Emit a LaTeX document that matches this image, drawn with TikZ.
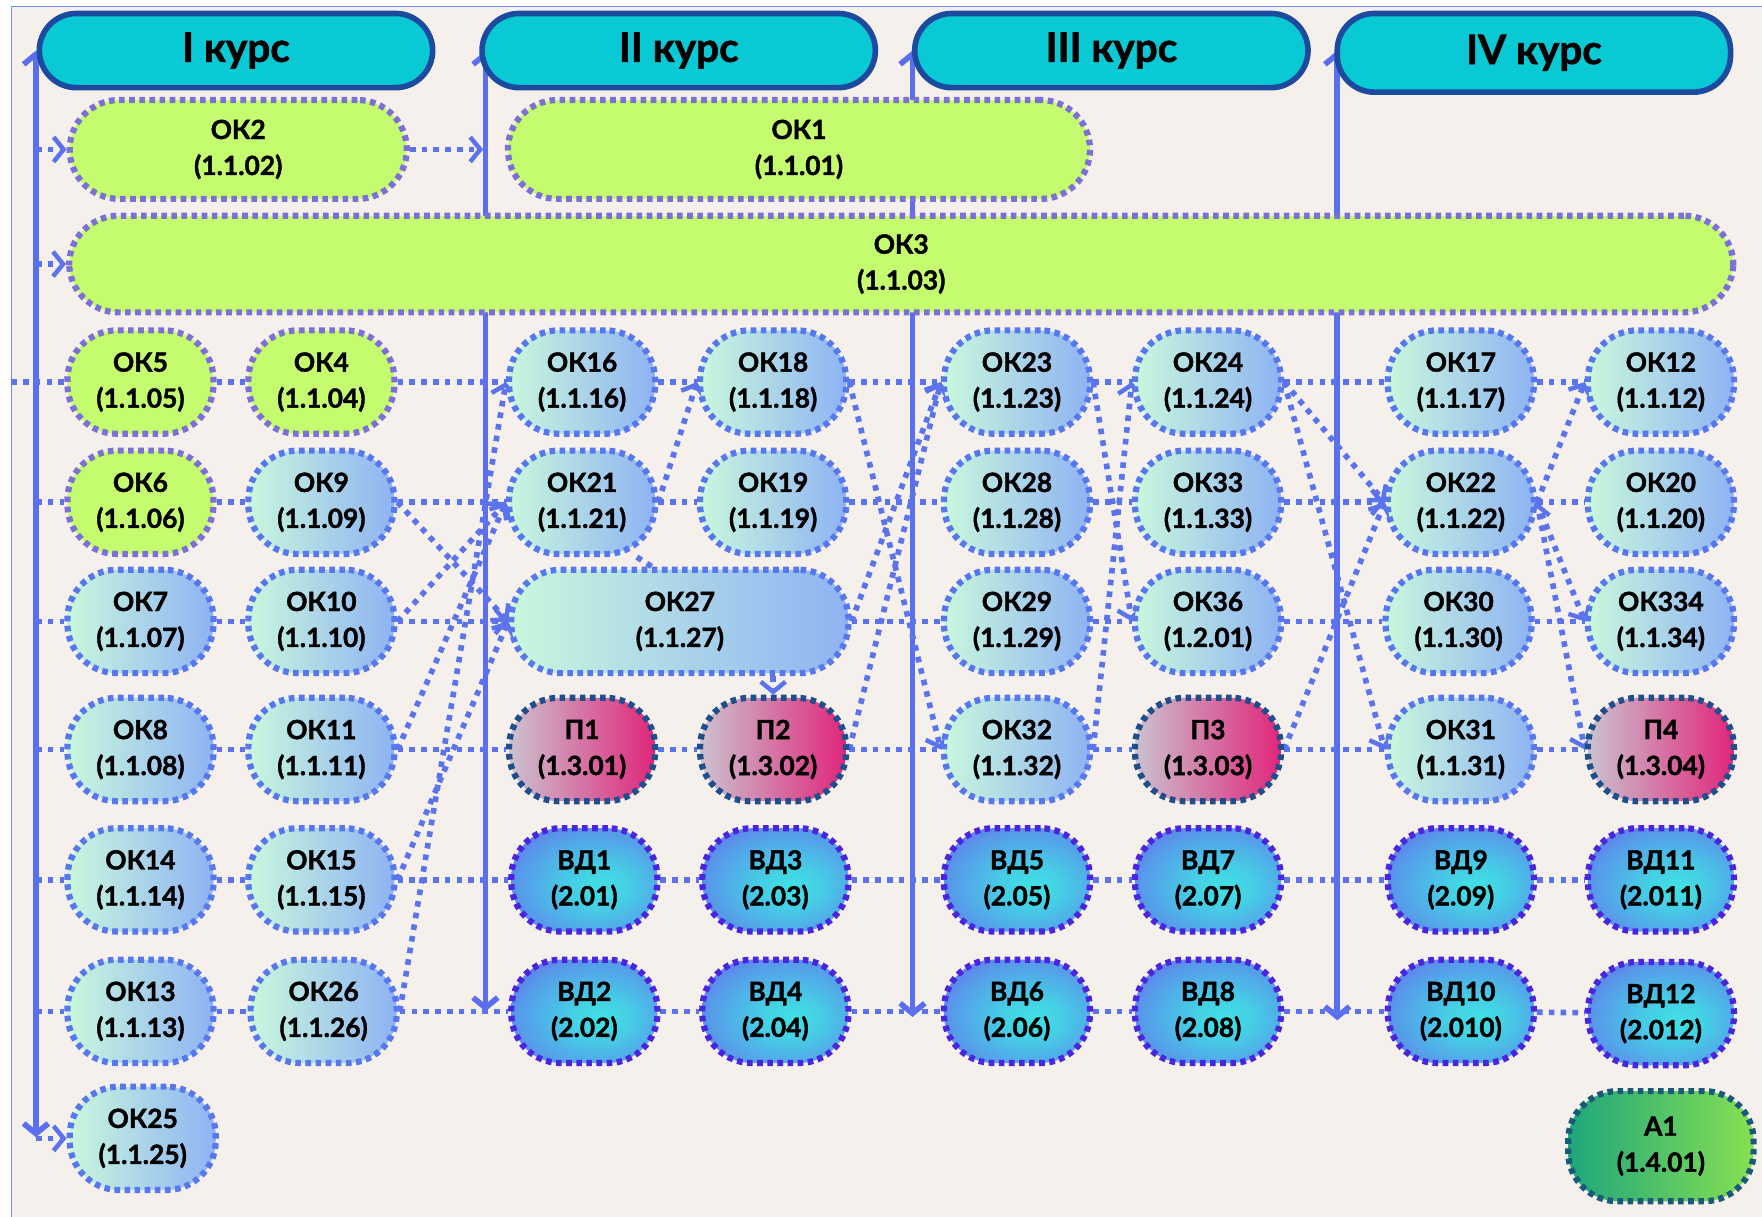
\documentclass[tikz,border=0pt]{standalone}
\usepackage{fontspec}
\setmainfont{Lato}[BoldFeatures={FakeBold=1.5}]
\usetikzlibrary{arrows.meta,positioning,calc}

\definecolor{paper}{HTML}{F5F0EC}
\definecolor{framecol}{HTML}{6C95EE}
\definecolor{kursfill}{HTML}{08C9D4}
\definecolor{kursrim}{HTML}{1B4A9E}
\definecolor{axisblue}{HTML}{5B6EF0}
\definecolor{linkblue}{HTML}{5B73EC}
\definecolor{lime}{HTML}{C5FB6E}
\definecolor{limerim}{HTML}{7C6FD8}
\definecolor{mint}{HTML}{C9F7DD}
\definecolor{skyblue}{HTML}{8EB3F3}
\definecolor{okrim}{HTML}{5677EE}
\definecolor{pgrey}{HTML}{CBC2CF}
\definecolor{pmagenta}{HTML}{E0267A}
\definecolor{prim}{HTML}{1F4E8C}
\definecolor{vdcyan}{HTML}{3FE2E4}
\definecolor{vdviolet}{HTML}{6A62EE}
\definecolor{vdrim}{HTML}{4B24E0}
\definecolor{ateal}{HTML}{1EA67C}
\definecolor{agreen}{HTML}{86E052}
\definecolor{arim}{HTML}{1A5A78}

\pgfdeclareradialshading{vdshade}{\pgfpoint{6bp}{-4bp}}{%
  color(0bp)=(vdcyan); color(10bp)=(vdcyan!85!vdviolet);
  color(26bp)=(vdviolet!55!vdcyan); color(38bp)=(vdviolet);
  color(70bp)=(vdviolet)}

\pgfdeclarelayer{back}
\pgfdeclarelayer{links}
\pgfsetlayers{back,links,main}

\newcommand\cellfont{\fontsize{23.5}{32}\selectfont\bfseries}
\newcommand\kursfont{\fontsize{36}{40}\selectfont\bfseries}

\tikzset{
  cell/.style={rounded corners=44pt, minimum width=130pt, minimum height=92pt,
    line width=5.5pt, dash pattern=on 5pt off 4pt, align=center,
    inner sep=0pt, font=\cellfont},
  okgreen/.style={cell, draw=limerim, fill=lime},
  okblue/.style={cell, draw=okrim, left color=mint, right color=skyblue},
  prak/.style={cell, draw=prim, left color=pgrey, right color=pmagenta},
  vdcell/.style={cell, draw=vdrim, shading=vdshade},
  attest/.style={cell, draw=arim, left color=ateal, right color=agreen},
  kurs/.style={rounded corners=33pt, draw=kursrim, line width=5pt, fill=kursfill,
    minimum width=350pt, minimum height=66pt, font=\kursfont},
  axis/.style={draw=axisblue, line width=5pt,
    {Straight Barb[length=9pt,width=22pt]}-{Straight Barb[length=9pt,width=22pt]}},
  link/.style={draw=linkblue, line width=5pt, dash pattern=on 5pt off 5.5pt},
  linkto/.style={link, -{Straight Barb[length=9pt,width=22pt,line width=4pt]}}
}

\begin{document}
\begin{tikzpicture}[x=1pt,y=-1pt]
\useasboundingbox (0,0) rectangle (1568,1083);

% course headers
\node[kurs] (k1) at (210,45) {I курс};
\node[kurs] (k2) at (604,45) {II курс};
\node[kurs] (k3) at (989,45) {III курс};
\node[kurs, minimum height=70pt] (k4) at (1365,47) {IV курс};

% long modules
\node[okgreen, minimum width=300pt, minimum height=88pt] (ok2) at (212,133) {ОК2\\(1.1.02)};
\node[okgreen, minimum width=518pt, minimum height=88pt] (ok1) at (711,133) {ОК1\\(1.1.01)};
\node[okgreen, minimum width=1481pt, minimum height=86pt] (ok3) at (802,235) {ОК3\\(1.1.03)};

% row 1
\node[okgreen] (ok5)  at (125,340)  {ОК5\\(1.1.05)};
\node[okgreen] (ok4)  at (286,340)  {ОК4\\(1.1.04)};
\node[okblue]  (ok16) at (518,340)  {ОК16\\(1.1.16)};
\node[okblue]  (ok18) at (688,340)  {ОК18\\(1.1.18)};
\node[okblue]  (ok23) at (905,340)  {ОК23\\(1.1.23)};
\node[okblue]  (ok24) at (1075,340) {ОК24\\(1.1.24)};
\node[okblue]  (ok17) at (1300,340) {ОК17\\(1.1.17)};
\node[okblue]  (ok12) at (1478,340) {ОК12\\(1.1.12)};
% row 2
\node[okgreen] (ok6)  at (125,447)  {ОК6\\(1.1.06)};
\node[okblue]  (ok9)  at (286,447)  {ОК9\\(1.1.09)};
\node[okblue]  (ok21) at (518,447)  {ОК21\\(1.1.21)};
\node[okblue]  (ok19) at (688,447)  {ОК19\\(1.1.19)};
\node[okblue]  (ok28) at (905,447)  {ОК28\\(1.1.28)};
\node[okblue]  (ok33) at (1075,447) {ОК33\\(1.1.33)};
\node[okblue]  (ok22) at (1300,447) {ОК22\\(1.1.22)};
\node[okblue]  (ok20) at (1478,447) {ОК20\\(1.1.20)};
% row 3
\node[okblue] (ok7)   at (125,553)  {ОК7\\(1.1.07)};
\node[okblue] (ok10)  at (286,553)  {ОК10\\(1.1.10)};
\node[okblue, minimum width=300pt] (ok27) at (605,553) {ОК27\\(1.1.27)};
\node[okblue] (ok29)  at (905,553)  {ОК29\\(1.1.29)};
\node[okblue] (ok36)  at (1075,553) {ОК36\\(1.2.01)};
\node[okblue] (ok30)  at (1298,553) {ОК30\\(1.1.30)};
\node[okblue] (ok334) at (1478,553) {ОК334\\(1.1.34)};
% row 4
\node[okblue] (ok8)  at (125,667)  {ОК8\\(1.1.08)};
\node[okblue] (ok11) at (286,667)  {ОК11\\(1.1.11)};
\node[prak]   (p1)   at (518,667)  {П1\\(1.3.01)};
\node[prak]   (p2)   at (688,667)  {П2\\(1.3.02)};
\node[okblue] (ok32) at (905,667)  {ОК32\\(1.1.32)};
\node[prak]   (p3)   at (1075,667) {П3\\(1.3.03)};
\node[okblue] (ok31) at (1300,667) {ОК31\\(1.1.31)};
\node[prak]   (p4)   at (1478,667) {П4\\(1.3.04)};
% row 5
\node[okblue] (ok14) at (125,783)  {ОК14\\(1.1.14)};
\node[okblue] (ok15) at (286,783)  {ОК15\\(1.1.15)};
\node[vdcell] (vd1)  at (520,783)  {ВД1\\(2.01)};
\node[vdcell] (vd3)  at (690,783)  {ВД3\\(2.03)};
\node[vdcell] (vd5)  at (905,783)  {ВД5\\(2.05)};
\node[vdcell] (vd7)  at (1075,783) {ВД7\\(2.07)};
\node[vdcell] (vd9)  at (1300,783) {ВД9\\(2.09)};
\node[vdcell] (vd11) at (1478,783) {ВД11\\(2.011)};
% row 6
\node[okblue] (ok13) at (125,900)  {ОК13\\(1.1.13)};
\node[okblue] (ok26) at (288,900)  {ОК26\\(1.1.26)};
\node[vdcell] (vd2)  at (520,900)  {ВД2\\(2.02)};
\node[vdcell] (vd4)  at (690,900)  {ВД4\\(2.04)};
\node[vdcell] (vd6)  at (905,900)  {ВД6\\(2.06)};
\node[vdcell] (vd8)  at (1075,900) {ВД8\\(2.08)};
\node[vdcell] (vd10) at (1300,900) {ВД10\\(2.010)};
\node[vdcell] (vd12) at (1478,902) {ВД12\\(2.012)};
% row 7
\node[okblue] (ok25) at (127,1013) {ОК25\\(1.1.25)};
\node[attest, minimum width=165pt, minimum height=98pt] (a1) at (1478,1020) {А1\\(1.4.01)};

% axis ends and row starts
\coordinate (v1t) at (32,45);   \coordinate (v1b) at (32,1012);
\coordinate (v2t) at (432,45);  \coordinate (v2b) at (432,900);
\coordinate (v3t) at (812,45);  \coordinate (v3b) at (812,905);
\coordinate (v4t) at (1190,45); \coordinate (v4b) at (1190,908);
\coordinate (s1) at (10,340);  \coordinate (s2) at (32,447);
\coordinate (s3) at (32,553);  \coordinate (s4) at (32,667);
\coordinate (s5) at (32,783);  \coordinate (s6) at (32,900);
\coordinate (e2) at (32,133);  \coordinate (e3) at (32,235);
\coordinate (e25) at (32,1013); \coordinate (v2a) at (430,133);

\begin{pgfonlayer}{back}
  \fill[white] (0,0) rectangle (1568,1083);
  \fill[paper] (10,6) rectangle (1568,1083);
  \draw[framecol, line width=1.2pt] (10,1083) -- (10,6) -- (1568,6);
\end{pgfonlayer}

\begin{pgfonlayer}{links}
  \draw[axis] (v1t) -- (v1b);
  \draw[axis] (v2t) -- (v2b);
  \draw[axis] (v3t) -- (v3b);
  \draw[axis] (v4t) -- (v4b);

  % rows
  \foreach \a/\b in {s1/ok5,ok5/ok4,ok4/ok16,ok16/ok18,ok18/ok23,ok23/ok24,ok24/ok17,ok17/ok12,
      s2/ok6,ok6/ok9,ok9/ok21,ok21/ok19,ok19/ok28,ok28/ok33,ok22/ok20,
      s3/ok7,ok7/ok10,ok27/ok29,ok29/ok36,ok36/ok30,ok30/ok334,
      s4/ok8,ok8/ok11,ok11/p1,p1/p2,p2/ok32,ok32/p3,p3/ok31,ok31/p4,
      s5/ok14,ok14/ok15,ok15/vd1,vd1/vd3,vd3/vd5,vd5/vd7,vd7/vd9,vd9/vd11,
      s6/ok13,ok13/ok26,ok26/vd2,vd2/vd4,vd4/vd6,vd6/vd8,vd8/vd10,vd10/vd12}
    \draw[link] (\a) -- (\b);
  \draw[link] (ok21.-45) -- ([xshift=-25pt]ok27.north);

  % prerequisites
  \path[linkto]
    (e2) edge (ok2.west)
    (e3) edge (ok3.west)
    (e25) edge (ok25.west)
    (ok2.east) edge (v2a)
    (ok9.east) edge (ok27.west)
    (ok10.east) edge (ok27.west)
    (ok10.east) edge (ok21.west)
    (ok11.east) edge (ok21.west)
    (ok15.east) edge (ok27.west)
    (ok26.east) edge (ok16.west)
    (ok21.east) edge (ok18.west)
    (ok27.south -| p2.north) edge (p2.north)
    (ok18.east) edge (ok32.west)
    (ok27.east) edge (ok23.west)
    (p2.east) edge (ok23.west)
    (ok23.east) edge (ok36.west)
    (ok32.east) edge (ok24.west)
    (ok33.east) edge (ok22.west)
    (ok24.east) edge (ok22.west)
    (ok24.east) edge (ok31.west)
    (p3.east) edge (ok22.west)
    (ok22.east) edge (ok12.west)
    (ok22.east) edge (ok334.west)
    (ok22.east) edge (p4.west);
\end{pgfonlayer}
\end{tikzpicture}
\end{document}
